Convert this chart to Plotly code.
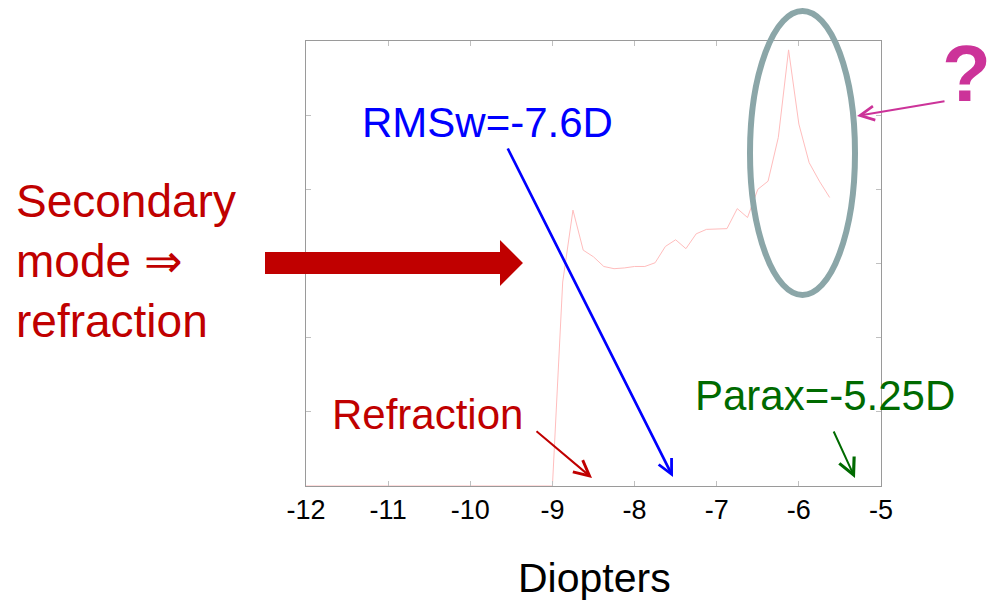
import plotly.graph_objects as go

# ---- data ----
diopters = [-12.0, -9.0, -8.875, -8.75, -8.625, -8.5, -8.375, -8.25, -8.125, -8.0,
            -7.875, -7.75, -7.625, -7.5, -7.375, -7.25, -7.125, -7.0, -6.875, -6.75,
            -6.625, -6.5, -6.375, -6.25, -6.125, -6.0, -5.875, -5.75, -5.625]
metric = [0.0, 0.0, 2.75, 3.72, 3.18, 3.09, 2.96, 2.93, 2.94, 2.96,
          2.96, 3.01, 3.23, 3.32, 3.20, 3.40, 3.46, 3.46, 3.47, 3.74,
          3.62, 4.00, 4.11, 4.70, 5.88, 4.88, 4.36, 4.11, 3.89]
x_ticks = [-12, -11, -10, -9, -8, -7, -6, -5]
x_tick_labels = ["-12", "-11", "-10", "-9", "-8", "-7", "-6", "-5"]
y_ticks = [0, 1, 2, 3, 4, 5, 6]

W, H = 991, 603
L, R, T, B = 306, 881, 41, 486


def px(x):
    return (x - L) / (R - L)


def py(y):
    return (B - y) / (B - T)


FONT = "Liberation Sans, Arial, sans-serif"
RED = "#c00000"
BLUE = "#0000ff"
GREEN = "#006a00"
MAG = "#cc3399"

fig = go.Figure()
fig.add_trace(go.Scatter(x=diopters, y=metric, mode="lines",
                         line=dict(color="#ffbdbd", width=1), hoverinfo="skip",
                         showlegend=False))

annotations = []


def text(t, x, y, size, color, xanchor="center", bold=False, align="center", pad=1):
    annotations.append(dict(text=("<b>%s</b>" % t) if bold else t, x=px(x), y=py(y),
                            xref="paper", yref="paper", showarrow=False,
                            xanchor=xanchor, yanchor="middle", align=align, borderpad=pad,
                            font=dict(family=FONT, size=size, color=color)))


def arrow(tail, tip, color, width, size):
    annotations.append(dict(text="", x=px(tip[0]), y=py(tip[1]), xref="paper", yref="paper",
                            ax=tail[0] - tip[0], ay=tail[1] - tip[1], axref="pixel", ayref="pixel",
                            showarrow=True, arrowhead=5, arrowsize=size, arrowwidth=width,
                            arrowcolor=color, standoff=0))


text("Secondary<br>mode ⇒<br>refraction", 14, 261, 46, RED, xanchor="left", align="left")
text("RMSw=-7.6D", 487, 123, 42, BLUE)
text("Refraction", 427, 414, 42, RED)
text("Parax=-5.25D", 825, 395, 42, GREEN)
text("?", 966, 73, 80, MAG, bold=True, pad=0)
text("Diopters", 594, 578, 41, "#000000")

arrow((507, 147), (673, 477), BLUE, 2.7, 1.05)
arrow((535, 430), (592, 478), RED, 2, 1.5)
arrow((833, 430), (855, 478), GREEN, 2, 1.6)
arrow((946, 101), (857, 116), MAG, 2, 1.4)

shapes = []
shapes.append(dict(type="circle", xref="paper", yref="paper",
                   x0=px(750), x1=px(855), y0=py(295), y1=py(11),
                   line=dict(color="#8ba6a8", width=6)))
pts = [(265, 252), (500, 252), (500, 240), (523, 263), (500, 286), (500, 274), (265, 274)]
path = "M " + " L ".join("%f,%f" % (px(a), py(b)) for a, b in pts) + " Z"
shapes.append(dict(type="path", xref="paper", yref="paper", path=path,
                   fillcolor=RED, line=dict(color=RED, width=0)))

fig.update_layout(
    width=W, height=H,
    margin=dict(l=L, r=W - R, t=T, b=H - B, pad=0),
    paper_bgcolor="white", plot_bgcolor="white",
    annotations=annotations, shapes=shapes,
    showlegend=False,
    xaxis=dict(range=[-12, -5], tickvals=x_ticks, ticktext=x_tick_labels,
               ticks="inside", ticklen=5, tickcolor="#c0c0c0", showgrid=False,
               zeroline=False, showline=True, linecolor="#9a9a9a", linewidth=1,
               mirror="allticks",
               tickfont=dict(family=FONT, size=27, color="#000000")),
    yaxis=dict(range=[0, 6], tickvals=y_ticks, showticklabels=False,
               ticks="inside", ticklen=5, tickcolor="#c0c0c0", showgrid=False,
               zeroline=False, showline=True, linecolor="#9a9a9a", linewidth=1,
               mirror="allticks"),
)

fig.write_html("out.html")
